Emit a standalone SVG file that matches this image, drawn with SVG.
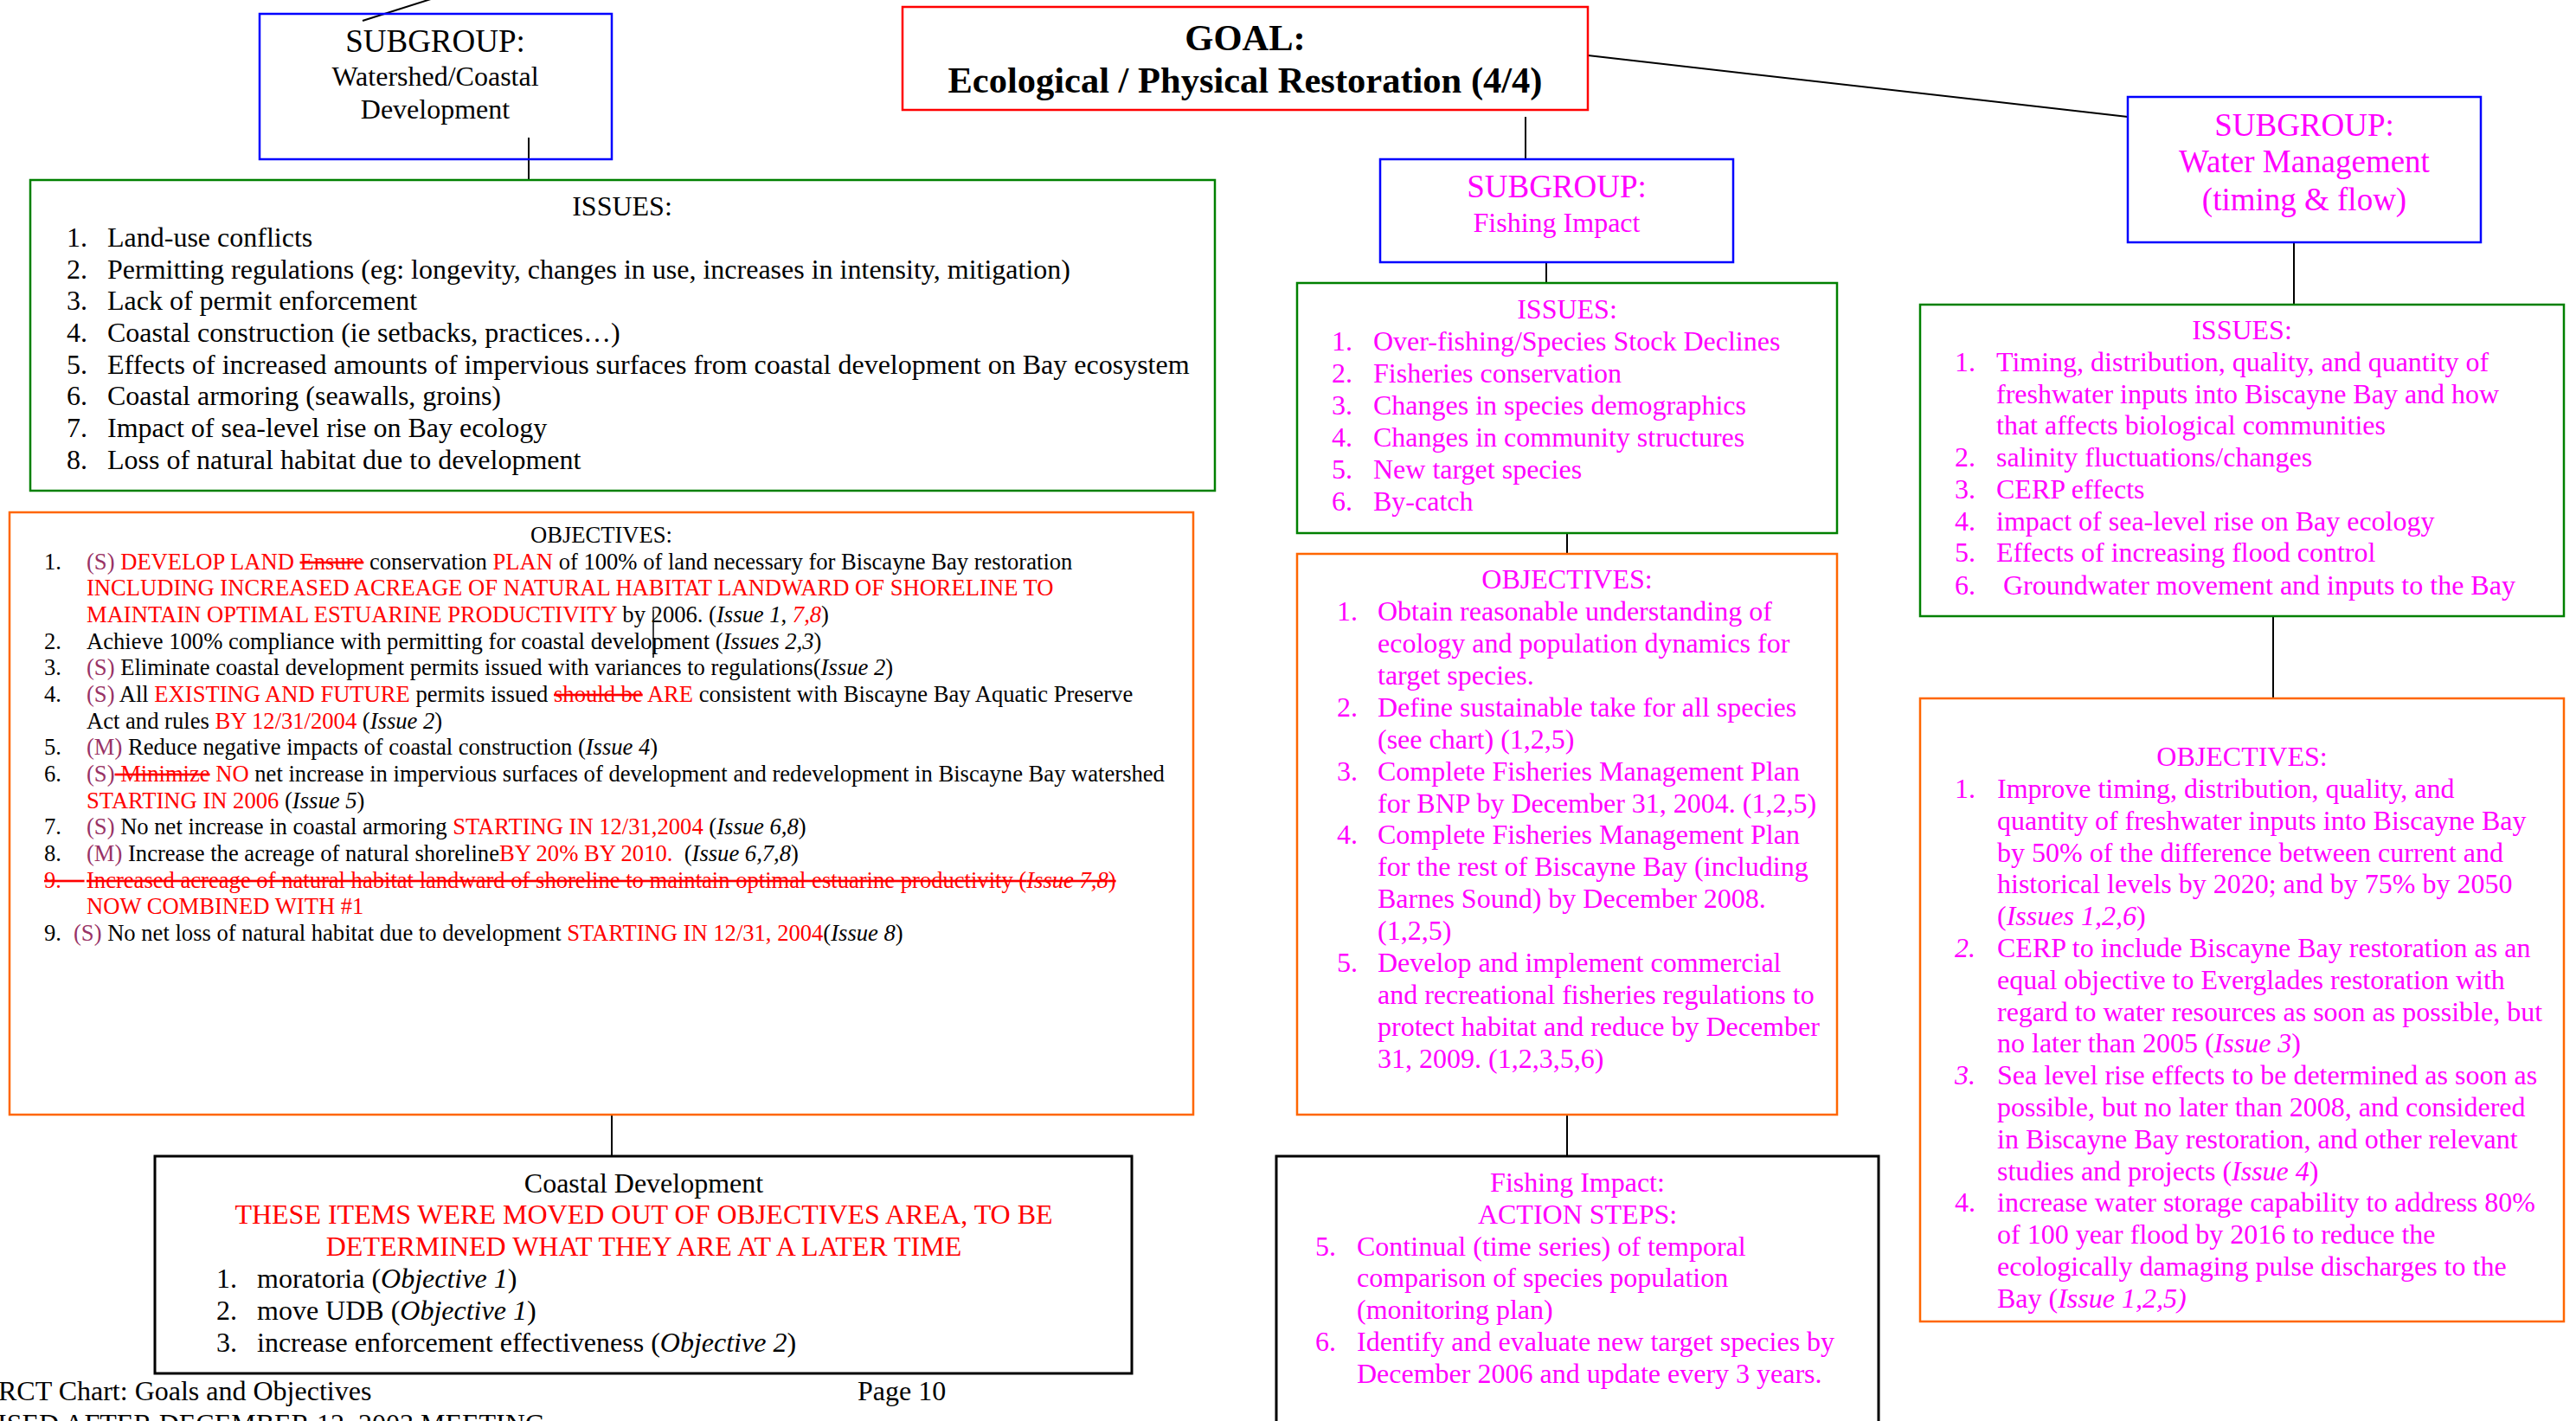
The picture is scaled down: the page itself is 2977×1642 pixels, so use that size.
<svg xmlns="http://www.w3.org/2000/svg" width="2977" height="1642" viewBox="0 0 2977 1642">
<style>
text{font-family:"Liberation Serif","Times New Roman",serif;fill:#000}
.c{text-anchor:middle}
.f32{font-size:32px}
.f37{font-size:37px}
.f26{font-size:26.6px}
.b{font-weight:bold}
.i{font-style:italic}
.r{fill:#FF0000}
.m{fill:#FF00FF}
.p{fill:#993366}
.s{text-decoration:line-through}
.blue{fill:none;stroke:#0000FF;stroke-width:2.5}
.green{fill:none;stroke:#008000;stroke-width:2.5}
.orange{fill:none;stroke:#FF6600;stroke-width:2.5}
.red{fill:none;stroke:#FF0000;stroke-width:2.5}
.black{fill:none;stroke:#000;stroke-width:3}
.conn line{stroke:#000;stroke-width:2}
</style>
<rect x="0" y="0" width="2977" height="1642" fill="#fff"/>
<g id="connectors" class="conn">
<line x1="419" y1="24" x2="501" y2="-2"/>
<line x1="611" y1="159" x2="611" y2="208"/>
<line x1="1835" y1="64" x2="2459" y2="135"/>
<line x1="1763" y1="135" x2="1763" y2="184"/>
<line x1="1787" y1="303" x2="1787" y2="327"/>
<line x1="1811" y1="616" x2="1811" y2="640"/>
<line x1="1811" y1="1288" x2="1811" y2="1336"/>
<line x1="2651" y1="280" x2="2651" y2="352"/>
<line x1="2627" y1="712" x2="2627" y2="807"/>
<line x1="707" y1="1288" x2="707" y2="1336"/>
</g>
<g id="goal">
<rect class="red" x="1043" y="8" width="792" height="119"/>
<text class="c b" x="1439" y="58" font-size="42.5">GOAL:</text>
<text class="c b" x="1439" y="107" font-size="42.5">Ecological / Physical Restoration (4/4)</text>
</g>
<g id="subgroup-watershed">
<rect class="blue" x="300" y="16" width="407" height="168"/>
<text class="c f37" x="503" y="60">SUBGROUP:</text>
<text class="c f32" x="503" y="99">Watershed/Coastal</text>
<text class="c f32" x="503" y="137">Development</text>
</g>
<g id="issues-watershed">
<rect class="green" x="35" y="208" width="1369" height="359"/>
<text class="c f32" x="719" y="249">ISSUES:</text>
<g class="f32">
<text x="77" y="285">1.</text><text x="124" y="285">Land-use conflicts</text>
<text x="77" y="322">2.</text><text x="124" y="322">Permitting regulations (eg: longevity, changes in use, increases in intensity, mitigation)</text>
<text x="77" y="358">3.</text><text x="124" y="358">Lack of permit enforcement</text>
<text x="77" y="395">4.</text><text x="124" y="395">Coastal construction (ie setbacks, practices…)</text>
<text x="77" y="432">5.</text><text x="124" y="432">Effects of increased amounts of impervious surfaces from coastal development on Bay ecosystem</text>
<text x="77" y="468">6.</text><text x="124" y="468">Coastal armoring (seawalls, groins)</text>
<text x="77" y="505">7.</text><text x="124" y="505">Impact of sea-level rise on Bay ecology</text>
<text x="77" y="542">8.</text><text x="124" y="542">Loss of natural habitat due to development</text>
</g>
</g>
<g id="objectives-watershed">
<rect class="orange" x="11" y="592" width="1368" height="696"/>
<line x1="755" y1="705" x2="755" y2="760" stroke="#000" stroke-width="1.5"/>
<g class="f26">
<text class="c" x="695" y="627">OBJECTIVES:</text>
<text x="51" y="658">1.</text>
<text x="100" y="658"><tspan class="p">(S)</tspan> <tspan class="r">DEVELOP LAND</tspan> <tspan class="r s">Ensure</tspan> conservation <tspan class="r">PLAN</tspan> of 100% of land necessary for Biscayne Bay restoration</text>
<text x="100" y="688" class="r">INCLUDING INCREASED ACREAGE OF NATURAL HABITAT LANDWARD OF SHORELINE TO</text>
<text x="100" y="719"><tspan class="r">MAINTAIN OPTIMAL ESTUARINE PRODUCTIVITY</tspan> by 2006. (<tspan class="i">Issue 1</tspan>, <tspan class="i r">7,8</tspan>)</text>
<text x="51" y="750">2.</text>
<text x="100" y="750">Achieve 100% compliance with permitting for coastal development (<tspan class="i">Issues 2,3</tspan>)</text>
<text x="51" y="780">3.</text>
<text x="100" y="780"><tspan class="p">(S)</tspan> Eliminate coastal development permits issued with variances to regulations(<tspan class="i">Issue 2</tspan>)</text>
<text x="51" y="811">4.</text>
<text x="100" y="811"><tspan class="p">(S)</tspan> All <tspan class="r">EXISTING AND FUTURE</tspan> permits issued <tspan class="r s">should be</tspan> <tspan class="r">ARE</tspan> consistent with Biscayne Bay Aquatic Preserve</text>
<text x="100" y="842">Act and rules <tspan class="r">BY 12/31/2004</tspan> (<tspan class="i">Issue 2</tspan>)</text>
<text x="51" y="872">5.</text>
<text x="100" y="872"><tspan class="p">(M)</tspan> Reduce negative impacts of coastal construction (<tspan class="i">Issue 4</tspan>)</text>
<text x="51" y="903">6.</text>
<text x="100" y="903"><tspan class="p">(S)</tspan><tspan class="r s"> Minimize</tspan> <tspan class="r">NO</tspan> net increase in impervious surfaces of development and redevelopment in Biscayne Bay watershed</text>
<text x="100" y="934"><tspan class="r">STARTING IN 2006</tspan> (<tspan class="i">Issue 5</tspan>)</text>
<text x="51" y="964">7.</text>
<text x="100" y="964"><tspan class="p">(S)</tspan> No net increase in coastal armoring <tspan class="r">STARTING IN 12/31,2004</tspan> (<tspan class="i">Issue 6,8</tspan>)</text>
<text x="51" y="995">8.</text>
<text x="100" y="995"><tspan class="p">(M)</tspan> Increase the acreage of natural shoreline<tspan class="r">BY 20% BY 2010.</tspan>&#160; (<tspan class="i">Issue 6,7,8</tspan>)</text>
<text x="51" y="1026" class="r s" xml:space="preserve">9.    </text>
<text x="100" y="1026" class="r s">Increased acreage of natural habitat landward of shoreline to maintain optimal estuarine productivity (<tspan class="i">Issue 7,8</tspan>)</text>
<text x="100" y="1056" class="r">NOW COMBINED WITH #1</text>
<text x="51" y="1087">9.</text>
<text x="85" y="1087"><tspan class="p">(S)</tspan> No net loss of natural habitat due to development <tspan class="r">STARTING IN 12/31, 2004</tspan>(<tspan class="i">Issue 8</tspan>)</text>
</g>
</g>
<g id="coastal-development">
<rect class="black" x="179" y="1336" width="1129" height="251"/>
<g class="f32">
<text class="c" x="744" y="1378">Coastal Development</text>
<text class="c r" x="744" y="1414">THESE ITEMS WERE MOVED OUT OF OBJECTIVES AREA, TO BE</text>
<text class="c r" x="744" y="1451">DETERMINED WHAT THEY ARE AT A LATER TIME</text>
<text x="250" y="1488">1.</text><text x="297" y="1488">moratoria (<tspan class="i">Objective 1</tspan>)</text>
<text x="250" y="1525">2.</text><text x="297" y="1525">move UDB (<tspan class="i">Objective 1</tspan>)</text>
<text x="250" y="1562">3.</text><text x="297" y="1562">increase enforcement effectiveness (<tspan class="i">Objective 2</tspan>)</text>
</g>
</g>
<g id="subgroup-fishing">
<rect class="blue" x="1595" y="184" width="408" height="119"/>
<text class="c f37 m" x="1799" y="228">SUBGROUP:</text>
<text class="c f32 m" x="1799" y="268">Fishing Impact</text>
</g>
<g id="issues-fishing" class="f32">
<rect class="green" x="1499" y="327" width="624" height="289"/>
<text class="c m" x="1811" y="368">ISSUES:</text>
<text class="m" x="1539" y="405">1.</text><text class="m" x="1587" y="405">Over-fishing/Species Stock Declines</text>
<text class="m" x="1539" y="442">2.</text><text class="m" x="1587" y="442">Fisheries conservation</text>
<text class="m" x="1539" y="479">3.</text><text class="m" x="1587" y="479">Changes in species demographics</text>
<text class="m" x="1539" y="516">4.</text><text class="m" x="1587" y="516">Changes in community structures</text>
<text class="m" x="1539" y="553">5.</text><text class="m" x="1587" y="553">New target species</text>
<text class="m" x="1539" y="590">6.</text><text class="m" x="1587" y="590">By-catch</text>
</g>
<g id="objectives-fishing" class="f32">
<rect class="orange" x="1499" y="640" width="624" height="648"/>
<text class="c m" x="1811" y="680">OBJECTIVES:</text>
<text class="m" x="1545" y="717">1.</text>
<text class="m" x="1592" y="717">Obtain reasonable understanding of</text>
<text class="m" x="1592" y="754">ecology and population dynamics for</text>
<text class="m" x="1592" y="791">target species.</text>
<text class="m" x="1545" y="828">2.</text>
<text class="m" x="1592" y="828">Define sustainable take for all species</text>
<text class="m" x="1592" y="865">(see chart) (1,2,5)</text>
<text class="m" x="1545" y="902">3.</text>
<text class="m" x="1592" y="902">Complete Fisheries Management Plan</text>
<text class="m" x="1592" y="939">for BNP by December 31, 2004. (1,2,5)</text>
<text class="m" x="1545" y="975">4.</text>
<text class="m" x="1592" y="975">Complete Fisheries Management Plan</text>
<text class="m" x="1592" y="1012">for the rest of Biscayne Bay (including</text>
<text class="m" x="1592" y="1049">Barnes Sound) by December 2008.</text>
<text class="m" x="1592" y="1086">(1,2,5)</text>
<text class="m" x="1545" y="1123">5.</text>
<text class="m" x="1592" y="1123">Develop and implement commercial</text>
<text class="m" x="1592" y="1160">and recreational fisheries regulations to</text>
<text class="m" x="1592" y="1197">protect habitat and reduce by December</text>
<text class="m" x="1592" y="1234">31, 2009. (1,2,3,5,6)</text>
</g>
<g id="action-fishing" class="f32">
<rect class="black" x="1475" y="1336" width="696" height="330"/>
<text class="c m" x="1823" y="1377">Fishing Impact:</text>
<text class="c m" x="1823" y="1414">ACTION STEPS:</text>
<text class="m" x="1520" y="1451">5.</text>
<text class="m" x="1568" y="1451">Continual (time series) of temporal</text>
<text class="m" x="1568" y="1487">comparison of species population</text>
<text class="m" x="1568" y="1524">(monitoring plan)</text>
<text class="m" x="1520" y="1561">6.</text>
<text class="m" x="1568" y="1561">Identify and evaluate new target species by</text>
<text class="m" x="1568" y="1598">December 2006 and update every 3 years.</text>
</g>
<g id="subgroup-water">
<rect class="blue" x="2459" y="112" width="408" height="168"/>
<text class="c f37 m" x="2663" y="157">SUBGROUP:</text>
<text class="c f37 m" x="2663" y="199">Water Management</text>
<text class="c f37 m" x="2663" y="243">(timing &amp; flow)</text>
</g>
<g id="issues-water" class="f32">
<rect class="green" x="2219" y="352" width="744" height="360"/>
<text class="c m" x="2591" y="392">ISSUES:</text>
<text class="m" x="2259" y="429">1.</text>
<text class="m" x="2307" y="429">Timing, distribution, quality, and quantity of</text>
<text class="m" x="2307" y="466">freshwater inputs into Biscayne Bay and how</text>
<text class="m" x="2307" y="502">that affects biological communities</text>
<text class="m" x="2259" y="539">2.</text><text class="m" x="2307" y="539">salinity fluctuations/changes</text>
<text class="m" x="2259" y="576">3.</text><text class="m" x="2307" y="576">CERP effects</text>
<text class="m" x="2259" y="613">4.</text><text class="m" x="2307" y="613">impact of sea-level rise on Bay ecology</text>
<text class="m" x="2259" y="649">5.</text><text class="m" x="2307" y="649">Effects of increasing flood control</text>
<text class="m" x="2259" y="687">6.</text><text class="m" x="2315" y="687">Groundwater movement and inputs to the Bay</text>
</g>
<g id="objectives-water" class="f32">
<rect class="orange" x="2219" y="807" width="744" height="720"/>
<text class="c m" x="2591" y="885">OBJECTIVES:</text>
<text class="m" x="2259" y="922">1.</text>
<text class="m" x="2308" y="922">Improve timing, distribution, quality, and</text>
<text class="m" x="2308" y="959">quantity of freshwater inputs into Biscayne Bay</text>
<text class="m" x="2308" y="996">by 50% of the difference between current and</text>
<text class="m" x="2308" y="1032">historical levels by 2020; and by 75% by 2050</text>
<text class="m" x="2308" y="1069">(<tspan class="i">Issues 1,2,6</tspan>)</text>
<text class="m i" x="2259" y="1106">2.</text>
<text class="m" x="2308" y="1106">CERP to include Biscayne Bay restoration as an</text>
<text class="m" x="2308" y="1143">equal objective to Everglades restoration with</text>
<text class="m" x="2308" y="1180">regard to water resources as soon as possible, but</text>
<text class="m" x="2308" y="1216">no later than 2005 (<tspan class="i">Issue 3</tspan>)</text>
<text class="m i" x="2259" y="1253">3.</text>
<text class="m" x="2308" y="1253">Sea level rise effects to be determined as soon as</text>
<text class="m" x="2308" y="1290">possible, but no later than 2008, and considered</text>
<text class="m" x="2308" y="1327">in Biscayne Bay restoration, and other relevant</text>
<text class="m" x="2308" y="1364">studies and projects (<tspan class="i">Issue 4</tspan>)</text>
<text class="m" x="2259" y="1400">4.</text>
<text class="m" x="2308" y="1400">increase water storage capability to address 80%</text>
<text class="m" x="2308" y="1437">of 100 year flood by 2016 to reduce the</text>
<text class="m" x="2308" y="1474">ecologically damaging pulse discharges to the</text>
<text class="m" x="2308" y="1511">Bay (<tspan class="i">Issue 1,2,5)</tspan></text>
</g>
<g id="footer" class="f32">
<text x="-2" y="1618">RCT Chart: Goals and Objectives</text>
<text x="991" y="1618">Page 10</text>
<text x="-3" y="1656">ISED AFTER DECEMBER 12, 2003 MEETING</text>
</g>
</svg>
